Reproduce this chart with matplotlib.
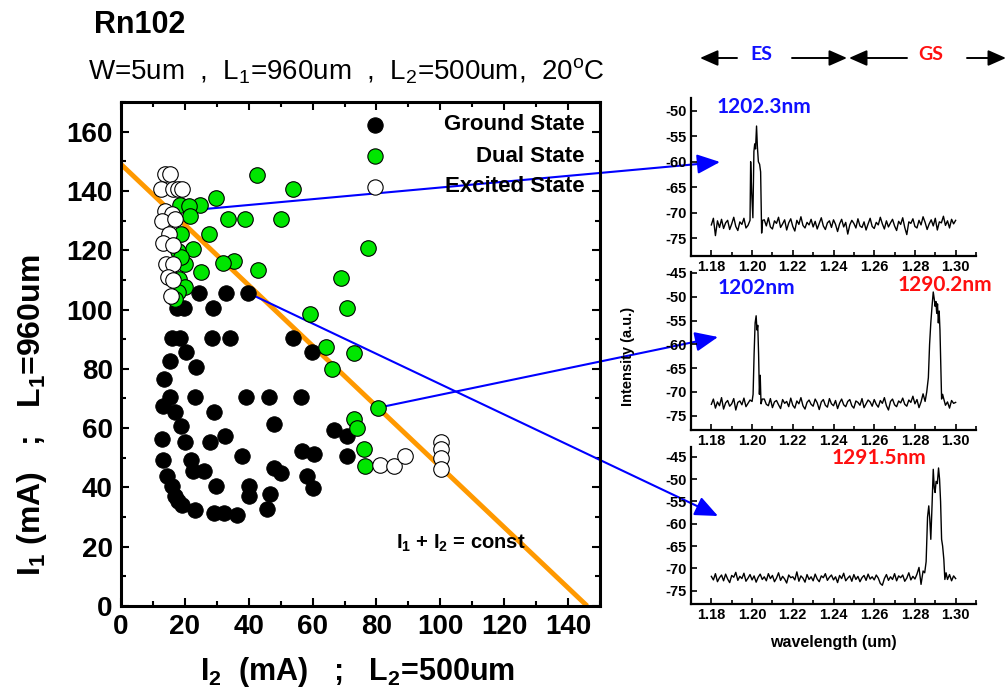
import numpy as np
import matplotlib
matplotlib.use('Agg')
import matplotlib.pyplot as plt
from matplotlib.patches import FancyArrowPatch

plt.rcParams['font.family'] = ['Liberation Sans', 'DejaVu Sans']
plt.rcParams['mathtext.fontset'] = 'custom'
plt.rcParams['mathtext.rm'] = 'Liberation Sans'
plt.rcParams['mathtext.bf'] = 'Liberation Sans:bold'
plt.rcParams['mathtext.it'] = 'Liberation Sans:italic'
plt.rcParams['axes.unicode_minus'] = False

# bias map, I2 (mA) vs I1 (mA)
gs_i2 = [24.5, 33.0, 39.9, 17.5, 19.6, 28.8, 15.9, 18.6, 28.5, 34.1, 54.0, 20.4, 59.7,
         15.2, 23.6, 13.5, 15.2, 23.3, 39.0, 46.3, 56.5, 13.1, 17.0, 29.0, 18.8, 47.9,
         66.8, 70.8, 12.8, 20.1, 28.0, 32.5, 56.6, 60.5, 70.8, 13.1, 22.0, 38.0, 22.7,
         25.9, 47.9, 50.0, 58.4, 14.4, 15.9, 29.6, 40.0, 40.0, 60.0, 17.0, 46.6, 19.1,
         23.3, 29.0, 32.2, 36.4, 45.6, 18.0]
gs_i1 = [105.5, 105.5, 105.5, 100.4, 100.4, 100.4, 90.3, 90.3, 90.3, 90.3, 90.3, 85.6, 85.6,
         82.5, 80.5, 76.5, 70.5, 70.5, 70.5, 70.5, 70.5, 67.4, 65.4, 65.4, 60.6, 61.4,
         59.4, 57.3, 56.4, 55.2, 55.2, 57.5, 52.4, 51.4, 50.5, 49.4, 49.4, 50.5, 45.4,
         45.4, 46.6, 44.9, 44.0, 43.8, 40.6, 40.4, 40.4, 37.0, 39.8, 37.2, 37.8, 34.2,
         32.5, 31.4, 31.4, 30.8, 32.7, 35.5]

ds_i2 = [42.5, 54.0, 29.9, 24.8, 18.6, 21.2, 21.7, 33.6, 38.8, 50.0, 27.5, 18.9, 22.5,
         18.0, 77.3, 35.3, 32.0, 19.9, 18.9, 43.0, 25.1, 69.0, 18.3, 20.1, 18.0, 17.0,
         59.1, 70.9, 64.2, 72.9, 66.0, 80.6, 72.9, 73.8, 76.2, 76.4]
ds_i1 = [145.5, 140.5, 137.6, 135.3, 135.3, 134.9, 131.5, 130.6, 130.6, 130.6, 125.5, 125.5, 120.4,
         119.9, 120.7, 116.5, 115.6, 115.4, 117.7, 113.4, 112.6, 110.5, 110.3, 107.5, 106.0, 103.5,
         98.6, 100.5, 87.4, 85.5, 79.8, 66.9, 63.2, 60.1, 53.0, 47.1]

es_i2 = [13.8, 15.4, 12.5, 16.4, 17.9, 19.1, 13.8, 15.9, 12.8, 17.0, 15.1, 13.2, 16.2,
         14.0, 16.2, 14.6, 16.4, 15.7, 81.1, 85.4, 89.0, 100.3, 100.3, 100.3, 100.3]
es_i1 = [145.6, 145.6, 140.5, 140.5, 140.5, 140.5, 133.4, 132.3, 130.0, 130.4, 125.5, 122.6, 121.6,
         115.5, 115.5, 111.0, 109.9, 104.6, 47.7, 47.1, 50.5, 55.2, 52.8, 50.0, 46.2]

# I1 + I2 = const line end points
const_i2 = [0, 146]
const_i1 = [149, 0]

# bias points whose spectra are shown (I2, I1)
spec_pts = [(17.0, 133.0), (80.6, 66.9), (40.0, 105.5)]

# optical spectra, wavelength (um) vs intensity (dB, a.u.)
wl = np.round(np.linspace(1.18, 1.30, 121), 4)

noise1 = [-72.4, -71.1, -74.5, -71.6, -72.9, -71.3, -73.1, -72.0, -71.5, -73.3,
          -72.2, -70.9, -72.7, -73.5, -71.8, -72.3, -71.1, -73.0, -72.5, -71.7,
          -72.0, -72.0, -72.0, -72.0, -72.0, -73.9, -71.4, -72.6, -71.0, -72.8,
          -73.2, -71.6, -72.1, -70.9, -72.9, -72.2, -71.4, -73.4, -72.0, -71.2,
          -72.7, -73.6, -71.5, -72.3, -70.8, -72.5, -73.0, -71.9, -72.4, -71.3,
          -72.8, -71.7, -73.2, -72.1, -71.0, -72.6, -73.3, -72.0, -71.6, -72.9,
          -71.4, -72.3, -73.7, -72.2, -71.3, -72.8, -71.9, -74.2, -72.4, -71.5,
          -72.1, -73.0, -71.2, -72.6, -72.9, -71.8, -73.4, -72.2, -71.1, -72.7,
          -73.1, -71.9, -72.4, -70.9, -72.2, -73.2, -71.6, -72.8, -72.0, -71.3,
          -72.6, -73.5, -71.7, -72.3, -71.0, -72.9, -74.3, -71.8, -72.1, -71.2,
          -72.7, -73.0, -71.5, -72.4, -70.8, -71.9, -73.3, -72.2, -71.4, -72.6,
          -71.1, -73.4, -71.8, -72.0, -70.7, -72.5, -71.6, -73.0, -71.3, -72.2,
          -71.5]
pk1_wl = [1.1990, 1.1993, 1.1998, 1.2004, 1.2009, 1.2013, 1.2017, 1.2022, 1.2026,
          1.2031, 1.2037, 1.2042, 1.2047, 1.2052]
pk1_db = [-71.5, -60.0, -66.0, -71.0, -58.0, -56.5, -57.5, -53.0, -57.0,
          -60.0, -60.5, -62.0, -74.0, -71.5]

noise2 = [-72.6, -71.5, -73.4, -72.1, -72.9, -71.2, -73.6, -72.3, -71.8, -73.0,
          -72.5, -71.4, -73.8, -72.2, -71.9, -72.7, -71.3, -73.1, -72.4, -71.7,
          -72.0, -72.0, -72.0, -72.0, -72.0, -73.2, -71.5, -72.6, -72.9, -71.4,
          -73.3, -72.1, -71.8, -72.7, -73.5, -71.6, -72.4, -72.0, -73.1, -71.3,
          -72.8, -73.4, -71.9, -72.5, -71.2, -72.9, -73.6, -72.2, -71.7, -72.6,
          -73.0, -71.5, -72.3, -73.7, -72.1, -71.6, -72.8, -73.2, -71.4, -72.5,
          -72.9, -71.8, -73.5, -72.3, -71.5, -72.7, -73.1, -72.0, -71.6, -72.9,
          -73.4, -71.9, -72.2, -72.8, -71.4, -73.3, -72.5, -71.7, -72.1, -73.0,
          -71.6, -72.6, -73.2, -71.8, -72.4, -71.2, -72.9, -73.8, -72.0, -71.5,
          -72.7, -73.1, -71.9, -72.3, -71.3, -72.6, -73.0, -71.7, -72.2, -70.9,
          -72.5, -71.6, -73.3, -72.1, -70.4, -72.0, -72.0, -72.0, -72.0, -72.0,
          -72.0, -72.0, -72.0, -72.0, -71.2, -72.8, -72.1, -73.4, -71.8, -72.4,
          -72.2]
pk2a_wl = [1.2000, 1.2005, 1.2010, 1.2015, 1.2020, 1.2024, 1.2028, 1.2032, 1.2036,
           1.2040, 1.2044, 1.2050]
pk2a_db = [-72.0, -70.5, -62.0, -55.5, -54.0, -57.0, -56.0, -62.0, -70.5,
           -66.5, -72.5, -71.5]
pk2b_wl = [1.2850, 1.2858, 1.2866, 1.2872, 1.2878, 1.2884, 1.2890, 1.2895, 1.2899,
           1.2903, 1.2907, 1.2911, 1.2915, 1.2919, 1.2923, 1.2927, 1.2931, 1.2936]
pk2b_db = [-72.0, -70.0, -67.0, -60.0, -55.5, -52.0, -49.0, -50.5, -52.0,
           -51.0, -53.5, -51.5, -55.5, -53.0, -57.0, -64.0, -71.5, -70.5]

noise3 = [-71.8, -72.6, -71.2, -73.0, -72.1, -71.5, -72.8, -71.3, -72.4, -73.2,
          -71.6, -72.0, -70.9, -72.7, -71.8, -72.3, -71.1, -72.9, -72.2, -71.4,
          -72.6, -71.7, -73.1, -72.0, -71.3, -72.5, -71.9, -72.8, -71.2, -72.3,
          -71.6, -73.0, -72.2, -71.0, -72.7, -71.8, -72.4, -73.3, -71.5, -72.1,
          -71.9, -72.6, -70.8, -72.9, -71.7, -72.2, -73.1, -71.4, -72.5, -71.9,
          -72.8, -71.3, -72.4, -73.0, -71.7, -72.1, -71.2, -72.7, -72.0, -71.5,
          -72.6, -71.9, -73.2, -71.6, -72.3, -71.1, -72.8, -72.2, -71.7, -72.9,
          -71.4, -72.5, -71.8, -73.0, -72.1, -71.6, -72.7, -71.3, -72.4, -71.9,
          -72.6, -71.5, -72.2, -73.4, -73.8, -72.3, -71.4, -72.7, -71.9, -72.5,
          -71.2, -72.8, -71.7, -72.1, -71.5, -72.9, -72.2, -71.0, -72.6, -71.8,
          -72.4, -71.3, -69.8, -73.6, -70.6, -72.0, -72.0, -72.0, -72.0, -72.0,
          -72.0, -72.0, -72.0, -72.0, -72.0, -72.0, -72.5, -71.4, -72.8, -71.7,
          -72.3]
pk3_wl = [1.2848, 1.2855, 1.2862, 1.2868, 1.2873, 1.2878, 1.2884, 1.2890, 1.2895,
          1.2899, 1.2904, 1.2910, 1.2916, 1.2921, 1.2926, 1.2931, 1.2936, 1.2942,
          1.2947, 1.2953]
pk3_db = [-71.0, -68.5, -58.5, -56.0, -59.0, -63.5, -56.0, -47.8, -52.0,
          -53.0, -50.5, -51.0, -47.5, -50.0, -55.0, -63.5, -65.0, -68.0,
          -72.5, -71.0]


def build(noise, peaks):
    y = np.array(noise, float)
    keep = np.ones(len(wl), bool)
    for pw, pd in peaks:
        keep &= (wl < pw[0]) | (wl > pw[-1])
    xs = np.concatenate([wl[keep]] + [np.array(pw) for pw, pd in peaks])
    ys = np.concatenate([y[keep]] + [np.array(pd) for pw, pd in peaks])
    o = np.argsort(xs)
    return xs[o], ys[o]


W, H = 1007, 695


def fx(px):
    return px / W


def fy(py):
    return 1 - py / H


fig = plt.figure(figsize=(W / 100, H / 100), dpi=100)

# ---- bias map ----
ax = fig.add_axes([fx(121), fy(606), fx(600) - fx(121), fy(102) - fy(606)])
ax.plot(const_i2, const_i1, color='#ff9900', lw=3.5, zorder=2, solid_capstyle='butt')
ax.scatter(gs_i2, gs_i1, s=125, c='black', edgecolors='black', linewidths=0.6, zorder=3)
ax.scatter(ds_i2, ds_i1, s=125, c='#00e600', edgecolors='black', linewidths=0.8, zorder=3)
ax.scatter(es_i2, es_i1, s=125, c='white', edgecolors='black', linewidths=0.8, zorder=3)

ax.set_xlim(0, 150)
ax.set_ylim(0, 170)
ax.set_xticks(range(0, 141, 20))
ax.set_xticks(range(10, 151, 20), minor=True)
ax.set_yticks(range(0, 161, 20))
ax.set_yticks(range(10, 171, 20), minor=True)
ax.tick_params(which='both', direction='in', top=True, right=True, width=1.5)
ax.tick_params(which='major', length=6, labelsize=20, pad=6)
ax.tick_params(which='minor', length=3.5)
for lab in ax.get_xticklabels() + ax.get_yticklabels():
    lab.set_fontweight('bold')
for sp in ax.spines.values():
    sp.set_linewidth(2.2)

# legend, text right aligned next to markers
leg = [('Ground State', 'black'), ('Dual State', '#00e600'), ('Excited State', 'white')]
for k, (name, col) in enumerate(leg):
    yy = fy(125 + 31 * k)
    fig.add_artist(plt.Line2D([fx(375)], [yy], marker='o', markersize=11, color=col,
                              markeredgecolor='black', markeredgewidth=0.8,
                              linestyle='none', transform=fig.transFigure))
    fig.text(fx(585), yy, name, ha='right', va='center', fontsize=16, fontweight='bold')

ax.text(86.0, 21.3, r'I$_\mathbf{1}$ + I$_\mathbf{2}$ = const', fontsize=14.5,
        fontweight='bold', va='center', ha='left')

# ---- spectra ----
spectra = [
    (build(noise1, [(pk1_wl, pk1_db)]), 98, 256, (-78.5, -47.5), range(-75, -49, 5)),
    (build(noise2, [(pk2a_wl, pk2a_db), (pk2b_wl, pk2b_db)]), 272, 430, (-78, -44.8), range(-75, -44, 5)),
    (build(noise3, [(pk3_wl, pk3_db)]), 447, 604, (-78, -42.8), range(-75, -44, 5)),
]
insets = []
for (xs, ys), top, bot, ylim, yt in spectra:
    a = fig.add_axes([fx(691), fy(bot), fx(976) - fx(691), fy(top) - fy(bot)])
    a.plot(xs, ys, color='black', lw=1.0)
    a.set_xlim(1.17, 1.31)
    a.set_ylim(*ylim)
    a.set_xticks([1.18, 1.20, 1.22, 1.24, 1.26, 1.28, 1.30])
    a.set_xticklabels(['1.18', '1.20', '1.22', '1.24', '1.26', '1.28', '1.30'])
    a.set_xticks([1.17, 1.19, 1.21, 1.23, 1.25, 1.27, 1.29, 1.31], minor=True)
    a.set_yticks(list(yt))
    a.spines['top'].set_visible(False)
    a.spines['right'].set_visible(False)
    a.spines['left'].set_linewidth(1.6)
    a.spines['bottom'].set_linewidth(1.6)
    a.tick_params(which='both', direction='in', width=1.2)
    a.tick_params(which='major', length=4, labelsize=10.5, pad=3)
    a.tick_params(which='minor', length=3)
    for lab in a.get_xticklabels() + a.get_yticklabels():
        lab.set_fontweight('bold')
    a.patch.set_alpha(0)
    insets.append(a)

fig.text(fx(628), fy(356), 'Intensity (a.u.)', rotation=90, ha='center', va='center',
         fontsize=10.5, fontweight='bold')
fig.text(fx(833), fy(642), 'wavelength (um)', ha='center', va='center',
         fontsize=11.5, fontweight='bold')

pk_font = dict(fontsize=15, fontweight='bold', family=['Lato', 'DejaVu Sans'], va='center')
fig.text(fx(717), fy(107), '1202.3nm', color='#1010ff', ha='left', **pk_font)
fig.text(fx(718), fy(288), '1202nm', color='#1010ff', ha='left', **pk_font)
fig.text(fx(898), fy(285), '1290.2nm', color='#ff1010', ha='left', **pk_font)
fig.text(fx(832), fy(458), '1291.5nm', color='#ff1010', ha='left', **pk_font)

# ES / GS span arrows
hdr = dict(fontsize=14, fontweight='bold', family=['Lato', 'DejaVu Sans'], ha='center', va='center')
fig.text(fx(761), fy(54), 'ES', color='#1010ff', **hdr)
fig.text(fx(931), fy(54), 'GS', color='#ff1010', **hdr)
for a0, a1 in [(737, 700), (792, 847), (907, 849), (967, 1006)]:
    fig.add_artist(FancyArrowPatch((fx(a0), fy(58)), (fx(a1), fy(58)),
                                   transform=fig.transFigure,
                                   arrowstyle='-|>,head_length=0.68,head_width=0.3',
                                   mutation_scale=16, color='black', lw=1.4,
                                   shrinkA=0, shrinkB=0))

# blue arrows from bias points to their spectra
tips = [(720, 162), (718, 337), (718, 516)]
for (px, py), (tx, ty) in zip(spec_pts, tips):
    ax.annotate('', xy=(fx(tx), fy(ty)), xycoords='figure fraction',
                xytext=(px, py), textcoords='data', annotation_clip=False, zorder=2.5,
                arrowprops=dict(arrowstyle='-|>,head_length=0.7,head_width=0.3',
                                mutation_scale=20, color='#0000ff', lw=1.5,
                                shrinkA=0, shrinkB=0))

fig.text(fx(94), fy(25), 'Rn102', fontsize=22, fontweight='bold', ha='left', va='center')
fig.text(fx(88), fy(71), r'W=5um  ,  L$_\mathrm{1}$=960um  ,  L$_\mathrm{2}$=500um,  20$^\mathrm{o}$C',
         fontsize=20, ha='left', va='center')

fig.text(fx(358), fy(672), r'I$_\mathbf{2}$  (mA)   ;   L$_\mathbf{2}$=500um', fontsize=22,
         fontweight='bold', ha='center', va='center')
fig.text(fx(32), fy(415), r'I$_\mathbf{1}$ (mA)   ;   L$_\mathbf{1}$=960um', fontsize=23,
         fontweight='bold', ha='center', va='center', rotation=90)

fig.savefig('out.png', dpi=100)
